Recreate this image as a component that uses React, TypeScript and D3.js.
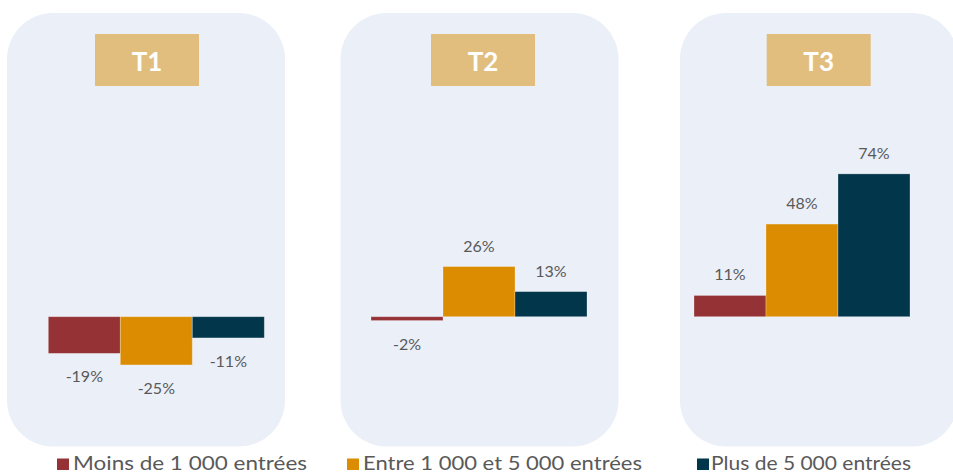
import React from "react";
import * as d3 from "d3";

// ---- Data ----
const periods = ["T1", "T2", "T3"];
const seriesNames = ["Moins de 1 000 entrées", "Entre 1 000 et 5 000 entrées", "Plus de 5 000 entrées"];
const moins1000 = [-19, -2, 11];
const entre1000et5000 = [-25, 26, 48];
const plus5000 = [-11, 13, 74];
const seriesValues = [moins1000, entre1000et5000, plus5000];

// ---- Styles / layout ----
const W = 953;
const H = 472;
const COLORS = ["#943236", "#DC8C00", "#02364A"];
const PANEL_FILL = "#EAEFF8";
const TITLE_FILL = "#E2BE7E";
const TEXT_COLOR = "#595959";
const FONT = "'Lato', 'Open Sans', 'DejaVu Sans', sans-serif";

const panelX = [7, 340.5, 680];
const panelW = 278;
const panelTop = 13;
const panelBottom = 446.5;
const panelR = 46;
const titleBoxX = [95, 431, 766.7];
const titleBoxW = 104;
const titleBoxTop = 34;
const titleBoxH = 52;
const barsStart = [48.3, 371, 694];
const barsWidth = 216;

const legendSquareX = [57, 347, 697];
const legendTextX = [73, 363, 711];
const legendTextW = [234, 279, 200];

export default function App() {
  // y scale: value (%) -> pixel. Baseline at 316.7, ~1.93 px per %
  const y = d3.scaleLinear().domain([-30, 80]).range([316.7 + 30 * 1.93, 316.7 - 80 * 1.93]);
  const y0 = y(0);

  return (
    <div style={{ position: "fixed", left: 0, top: 0, width: W, height: H, background: "#fff" }}>
      <svg width={W} height={H} style={{ display: "block" }}>
        {periods.map((p, pi) => {
          const x = d3
            .scaleBand<number>()
            .domain(d3.range(seriesNames.length))
            .range([barsStart[pi], barsStart[pi] + barsWidth])
            .padding(0);
          return (
            <g key={p}>
              <rect
                x={panelX[pi]}
                y={panelTop}
                width={panelW}
                height={panelBottom - panelTop}
                rx={panelR}
                ry={panelR}
                fill={PANEL_FILL}
              />
              <rect x={titleBoxX[pi]} y={titleBoxTop} width={titleBoxW} height={titleBoxH} fill={TITLE_FILL} />
              <text
                x={titleBoxX[pi] + titleBoxW / 2}
                y={titleBoxTop + 37}
                textAnchor="middle"
                fill="#fff"
                fontFamily={FONT}
                fontWeight={700}
                fontSize={26}
              >
                {p}
              </text>
              {seriesValues.map((vals, si) => {
                const v = vals[pi];
                const bx = x(si)!;
                const bw = x.bandwidth();
                const top = Math.min(y(v), y0);
                const h = Math.abs(y(v) - y0);
                const ly = v >= 0 ? y(v) - 15 : y(v) + 29;
                return (
                  <g key={si}>
                    <rect
                      x={bx}
                      y={top}
                      width={bw}
                      height={h}
                      fill={COLORS[si]}
                      stroke="#ffffff"
                      strokeOpacity={0.35}
                      strokeWidth={0.8}
                    />
                    <text
                      x={bx + bw / 2}
                      y={ly}
                      textAnchor="middle"
                      fill={TEXT_COLOR}
                      fontFamily={FONT}
                      fontWeight={400}
                      fontSize={16}
                    >
                      {`${v}%`}
                    </text>
                  </g>
                );
              })}
            </g>
          );
        })}
        {seriesNames.map((name, si) => (
          <g key={name}>
            <rect x={legendSquareX[si]} y={458.5} width={12} height={11.5} fill={COLORS[si]} />
            <text
              x={legendTextX[si]}
              y={469.5}
              fill={TEXT_COLOR}
              fontFamily={FONT}
              fontWeight={400}
              fontSize={20}
              textLength={legendTextW[si]}
              lengthAdjust="spacingAndGlyphs"
            >
              {name}
            </text>
          </g>
        ))}
      </svg>
    </div>
  );
}
